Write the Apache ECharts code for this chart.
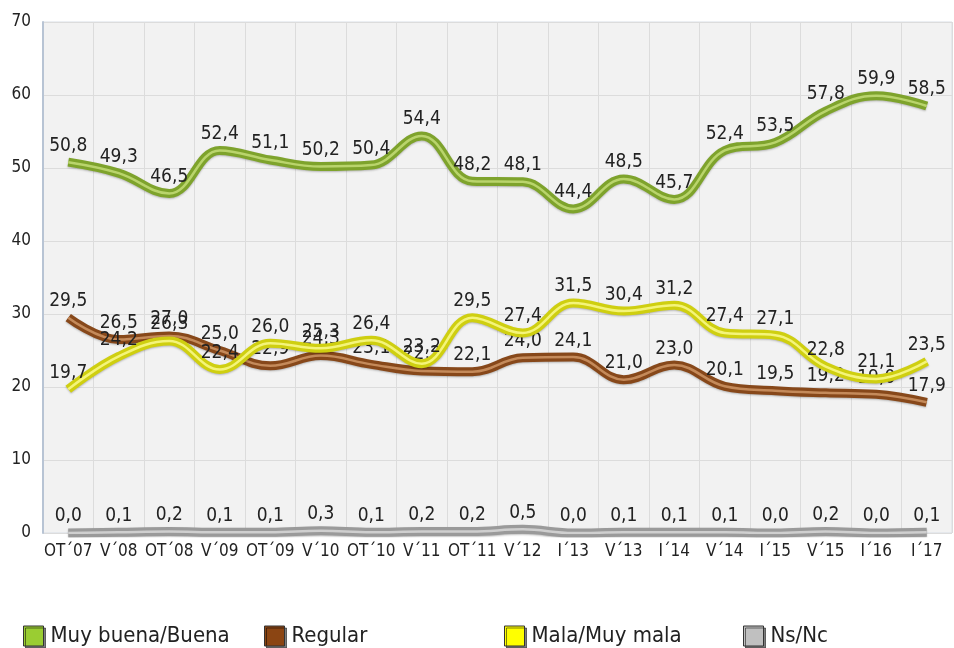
<!DOCTYPE html>
<html>
<head>
<meta charset="utf-8">
<script src="https://cdn.jsdelivr.net/npm/echarts@6/dist/echarts.min.js"></script>
<style>
  html, body { margin: 0; padding: 0; background: #fff; }
  #chart { width: 954px; height: 648px; }
</style>
</head>
<body>
<div id="chart"></div>
<script>
// based on prepared DOM, initialize echarts instance
var myChart = echarts.init(document.getElementById('chart'));

var categories = ['OT´07', 'V´08', 'OT´08', 'V´09', 'OT´09', 'V´10', 'OT´10', 'V´11', 'OT´11',
    'V´12', 'I´13', 'V´13', 'I´14', 'V´14', 'I´15', 'V´15', 'I´16', 'I´17'];
var muyBuena = [50.8, 49.3, 46.5, 52.4, 51.1, 50.2, 50.4, 54.4, 48.2, 48.1, 44.4, 48.5, 45.7, 52.4, 53.5, 57.8, 59.9, 58.5];
var regular = [29.5, 26.5, 27.0, 25.0, 22.9, 24.3, 23.1, 22.2, 22.1, 24.0, 24.1, 21.0, 23.0, 20.1, 19.5, 19.2, 19.0, 17.9];
var mala = [19.7, 24.2, 26.3, 22.4, 26.0, 25.3, 26.4, 23.2, 29.5, 27.4, 31.5, 30.4, 31.2, 27.4, 27.1, 22.8, 21.1, 23.5];
var nsnc = [0.0, 0.1, 0.2, 0.1, 0.1, 0.3, 0.1, 0.2, 0.2, 0.5, 0.0, 0.1, 0.1, 0.1, 0.0, 0.2, 0.0, 0.1];

var FONT = "'DejaVu Sans Condensed', 'DejaVu Sans', sans-serif";

// name, data, dark colour, highlight colour, legend swatch colour
var lines = [
    ['Muy buena/Buena', muyBuena, '#7ea32c', '#b9d46c', '#9acd32'],
    ['Regular', regular, '#87481a', '#c48a5a', '#8b4513'],
    ['Mala/Muy mala', mala, '#cfcf10', '#f4f47a', '#ffff00'],
    ['Ns/Nc', nsnc, '#9a9a9a', '#cfcfcf', '#c0c0c0']
];

var series = [];
lines.forEach(function (l, i) {
    series.push({
        name: l[0],
        type: 'line',
        data: l[1],
        smooth: 0.4,
        symbol: 'circle',
        symbolSize: 0,
        z: 2 + i,
        color: l[4],
        lineStyle: {
            width: 9,
            color: l[2],
            shadowColor: 'rgba(0,0,0,0.25)',
            shadowBlur: 2,
            shadowOffsetY: 1
        },
        label: {
            show: true,
            position: 'top',
            distance: 7,
            fontFamily: FONT,
            fontSize: 19,
            color: '#222',
            formatter: function (p) { return p.value.toFixed(1).replace('.', ','); }
        },
        emphasis: { disabled: true }
    });
    // thin light stripe to give the tube look
    series.push({
        name: l[0] + ' hl',
        type: 'line',
        data: l[1],
        smooth: 0.4,
        symbol: 'none',
        silent: true,
        z: 2 + i,
        lineStyle: { width: 2.5, color: l[3] },
        emphasis: { disabled: true }
    });
});

function legendAt(name, left) {
    return {
        data: [name],
        left: left,
        top: 620,
        itemWidth: 20,
        itemHeight: 20,
        itemGap: 0,
        icon: 'rect',
        textStyle: { fontFamily: FONT, fontSize: 22, color: '#222', padding: [0, 0, 0, 2] },
        itemStyle: {
            borderColor: '#333',
            borderWidth: 1,
            shadowColor: 'rgba(0,0,0,0.5)',
            shadowOffsetX: 2,
            shadowOffsetY: 2
        },
        selectedMode: false
    };
}

option = {
    animation: false,
    backgroundColor: '#fff',
    grid: {
        left: 43, right: 2, top: 22, bottom: 115,
        show: true,
        backgroundColor: '#f2f2f2',
        borderColor: '#d9dee6',
        borderWidth: 1
    },
    legend: [
        legendAt('Muy buena/Buena', 18),
        legendAt('Regular', 259),
        legendAt('Mala/Muy mala', 499),
        legendAt('Ns/Nc', 738)
    ],
    xAxis: {
        type: 'category',
        data: categories,
        boundaryGap: true,
        axisLine: { show: false },
        axisTick: { show: false },
        splitLine: { show: true, interval: 0, lineStyle: { color: '#dcdcdc' } },
        axisLabel: { interval: 0, fontFamily: FONT, fontSize: 17, color: '#222', margin: 10 }
    },
    yAxis: {
        type: 'value',
        min: 0,
        max: 70,
        interval: 10,
        axisLine: { show: true, lineStyle: { color: '#b8c4d4', width: 2 } },
        axisTick: { show: false },
        splitLine: { lineStyle: { color: '#dcdcdc' } },
        axisLabel: { fontFamily: FONT, fontSize: 17, color: '#222', margin: 12 }
    },
    series: series
};

// use configuration item and data specified to show chart
myChart.setOption(option);
</script>
</body>
</html>
